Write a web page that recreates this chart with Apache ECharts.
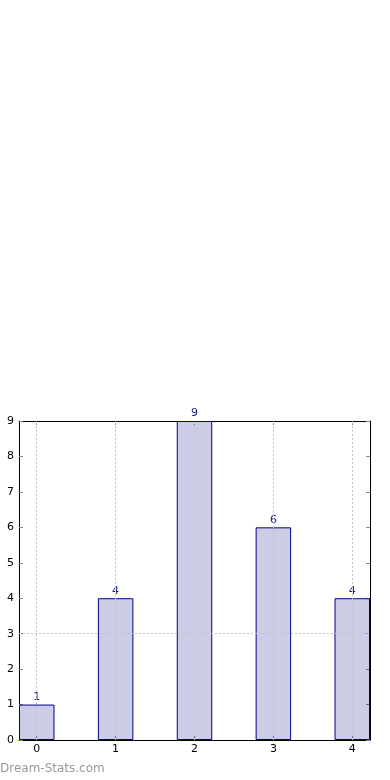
<!DOCTYPE html>
<html>
<head>
<meta charset="utf-8">
<script src="https://cdn.jsdelivr.net/npm/echarts@6/dist/echarts.min.js"></script>
<style>html,body{margin:0;padding:0;background:#fff}#c{width:390px;height:780px}</style>
</head>
<body>
<div id="c"></div>
<script>
var categories = [0, 1, 2, 3, 4];
var counts = [1, 4, 9, 6, 4];
var yTicks = [0, 1, 2, 3, 4, 5, 6, 7, 8, 9];
var refLineValue = 3;
var watermark = 'Dream-Stats.com';

var chart = echarts.init(document.getElementById('c'), null, {renderer: 'canvas'});
var font = 'DejaVu Sans';
var halfBar = 0.225;
var xMin = categories[0] - halfBar, xMax = categories[categories.length - 1] + halfBar;
var tickStyle = {show: true, inside: true, length: 4, lineStyle: {color: '#888', width: 1}};

function xAxisDef(pos, showLabel) {
  return {
    type: 'value', position: pos, min: xMin, max: xMax,
    axisLine: {show: true, onZero: false, lineStyle: {color: '#000', width: 1}},
    axisTick: Object.assign({customValues: categories}, tickStyle),
    axisLabel: {show: showLabel, customValues: categories, color: '#000', fontFamily: font, fontSize: 11, margin: 4},
    splitLine: {show: false}
  };
}
function yAxisDef(pos, showLabel) {
  return {
    type: 'value', position: pos, min: yTicks[0], max: yTicks[yTicks.length - 1], interval: 1,
    axisLine: {show: true, onZero: false, lineStyle: {color: '#000', width: 1}},
    axisTick: tickStyle,
    axisLabel: {show: showLabel, color: '#000', fontFamily: font, fontSize: 11, margin: 5},
    splitLine: {show: false}
  };
}

var gridLineStyle = {color: '#c4c4c4', type: [2, 2], width: 1};
var vLines = categories.map(function (c) { return {xAxis: c}; });
var data = categories.map(function (c, i) { return [c, counts[i]]; });

chart.setOption({
  animation: false,
  backgroundColor: '#fff',
  grid: {left: 19, right: 20, top: 421, bottom: 40},
  xAxis: [xAxisDef('bottom', true), xAxisDef('top', false)],
  yAxis: [yAxisDef('left', true), yAxisDef('right', false)],
  series: [{
    type: 'bar', xAxisIndex: 0, yAxisIndex: 0,
    data: data, barWidth: 35.5,
    itemStyle: {color: 'rgba(0,0,128,0.2)', borderColor: '#00008b', borderWidth: 1},
    label: {show: true, position: 'top', distance: 2, color: '#1a1a8c', fontFamily: font, fontSize: 11},
    markLine: {
      silent: true, symbol: 'none', label: {show: false},
      lineStyle: gridLineStyle,
      data: vLines.concat([{yAxis: refLineValue}])
    },
    z: 2
  }],
  graphic: [{
    type: 'text', left: 0, top: 763,
    style: {text: watermark, fill: '#999999', font: '12px "DejaVu Sans"'}
  }]
});
</script>
</body>
</html>
